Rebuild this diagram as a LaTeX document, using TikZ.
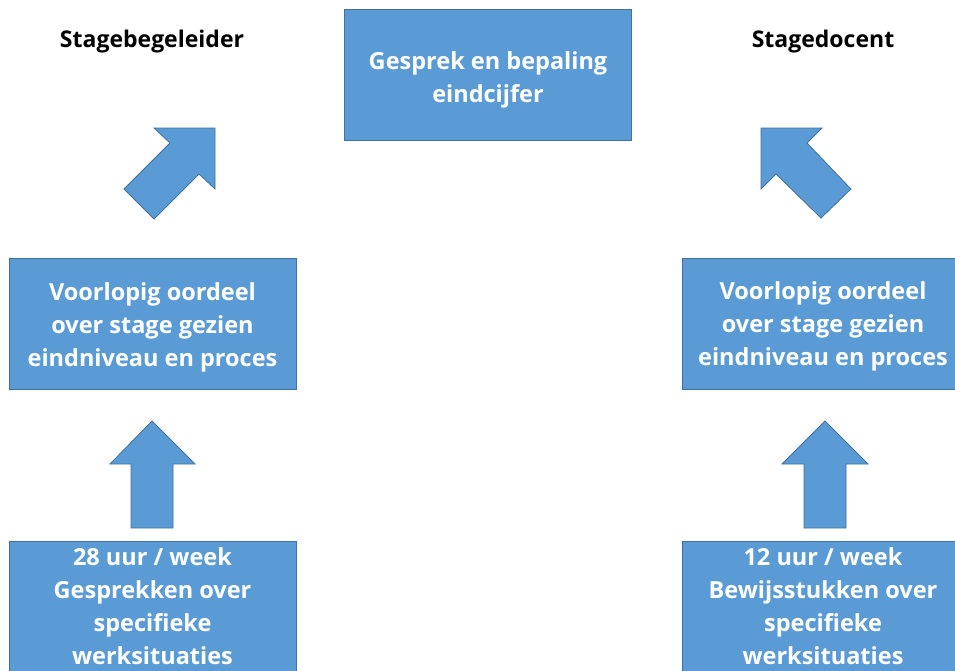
\documentclass[tikz,border=0pt]{standalone}
\usepackage{fontspec}
\setmainfont[Ligatures=NoCommon]{Open Sans}
\definecolor{boxfill}{HTML}{5B9BD5}
\definecolor{boxline}{HTML}{41719C}
\begin{document}
\begin{tikzpicture}[x=1pt,y=-1pt,
  box/.style={rectangle,fill=boxfill,draw=boxline,line width=0.8pt,minimum width=287pt,minimum height=131pt,inner sep=0pt},
  boxtext/.style={text=white,font=\fontsize{23.5}{33}\selectfont\bfseries,align=center,inner sep=0pt},
  title/.style={text=black,font=\fontsize{23}{28}\selectfont\bfseries,inner sep=0pt},
  blockarrow/.style={fill=boxfill,draw=boxline,line width=0.8pt,line join=miter}]
\useasboundingbox (0,0) rectangle (955,670);
\clip (0,0) rectangle (955,670);
% titles
\node[title] (tl) at (152,42) {Stagebegeleider};
\node[title] (tr) at (823,42) {Stagedocent};
% top box
\node[box] (top) at (488,74.5) {};
\node[boxtext] (topt) at (488,80) {Gesprek en bepaling\\eindcijfer};
% middle boxes
\node[box] (ml) at (152.5,323.5) {};
\node[boxtext] (mlt) at (152.5,327) {Voorlopig oordeel\\over stage gezien\\eindniveau en proces};
\node[box] (mr) at (825.5,323.5) {};
\node[boxtext] (mrt) at (823,326) {Voorlopig oordeel\\over stage gezien\\eindniveau en proces};
% bottom boxes
\node[box] (bl) at (152.5,606.5) {};
\node[boxtext,anchor=north] (blt) at (152.5,547) {28 uur / week\\Gesprekken over\\specifieke\\werksituaties};
\node[box] (br) at (825.5,606.5) {};
\node[boxtext,anchor=north] (brt) at (823,547) {12 uur / week\\Bewijsstukken over\\specifieke\\werksituaties};
% up arrows
\draw[blockarrow] (152,421) -- (195,464) -- (173,464) -- (173,528) -- (131,528) -- (131,464) -- (110,464) -- cycle;
\draw[blockarrow] (825,421) -- (868,464) -- (846,464) -- (846,528) -- (804,528) -- (804,464) -- (782,464) -- cycle;
% diagonal arrows
\draw[blockarrow] (215,128) -- (154,128) -- (170,143) -- (124,189) -- (154,219) -- (199,174) -- (215,189) -- cycle;
\draw[blockarrow] (761,128) -- (822,128) -- (807,143) -- (851,189) -- (821,218) -- (776,174) -- (761,189) -- cycle;
\end{tikzpicture}
\end{document}
